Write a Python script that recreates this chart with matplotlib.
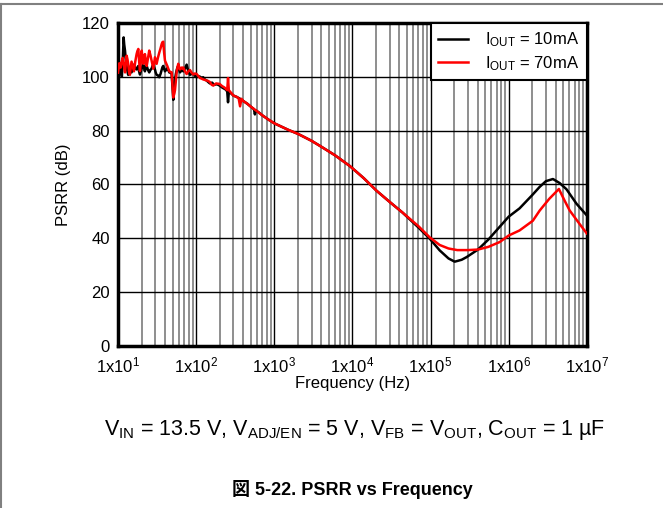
import numpy as np
import matplotlib
matplotlib.use('Agg')
import matplotlib.pyplot as plt
from matplotlib.lines import Line2D
from matplotlib.ticker import FixedLocator, LogLocator, NullFormatter

plt.rcParams['font.family'] = ['Liberation Sans', 'Noto Sans CJK JP']
plt.rcParams['mathtext.fontset'] = 'custom'
plt.rcParams['mathtext.rm'] = 'Liberation Sans'
plt.rcParams['mathtext.it'] = 'Liberation Sans:italic'
plt.rcParams['mathtext.bf'] = 'Liberation Sans:bold'

# IOUT = 10mA (black)
freq_10ma = [10.0, 10.3, 10.6, 10.9, 11.2, 11.5, 11.8, 12.0, 12.3, 12.6, 12.9, 13.2, 13.5,
             13.8, 14.2, 14.5, 14.9, 15.4, 16.0, 16.6, 17.3, 17.7, 18.2, 18.6, 19.1, 19.6,
             20.1, 20.6, 21.1, 21.6, 22.1, 22.7, 23.3, 24.2, 25.1, 26.0, 26.9, 27.6, 28.3,
             29.0, 29.7, 30.4, 31.2, 32.4, 33.7, 35.0, 36.2, 37.0, 37.9, 38.9, 39.9,
             41.3, 42.7, 44.0, 45.3, 47.0, 48.6, 49.8, 51.0, 52.3, 53.6, 55.0, 56.4,
             57.7, 59.1, 60.6, 62.1, 63.7, 65.3, 66.8, 68.4, 72.0, 75.6, 79.4, 83.3,
             87.5, 91.9, 96.6, 101.5, 106.7, 112, 117, 123, 129, 136, 143, 150, 160, 170,
             185, 200, 215, 230, 240, 250, 256, 262, 280, 300, 330, 365, 400, 450, 500,
             550, 565, 580, 630, 700, 850, 1000, 1250, 1500, 2000, 3000, 4000, 6000,
             9300, 14000, 20300, 30000, 44000, 70000, 98000, 131000, 170000, 204000,
             250000, 290000, 405000, 550000, 770000, 1000000, 1380000, 2000000,
             2500000, 3000000, 3690000, 4500000, 5500000, 7400000, 10000000]
psrr_10ma = [101.0, 103.5, 104.7, 102.0, 100.0, 106.0, 114.6, 112.0, 109.6, 106.0, 103.7, 102.0, 100.7,
             102.5, 103.6, 102.0, 101.6, 103.0, 104.5, 103.0, 102.7, 103.5, 104.0, 102.0, 100.8, 102.0,
             103.2, 104.0, 104.5, 103.0, 102.0, 103.5, 104.0, 102.5, 101.6, 102.5, 103.0, 104.0, 104.5,
             103.5, 102.7, 101.5, 100.7, 100.5, 99.8, 101.0, 102.5, 103.5, 104.0, 103.0, 102.0,
             102.5, 103.2, 102.5, 101.6, 101.5, 101.0, 96.0, 91.4, 95.0, 99.0, 101.0, 102.5,
             103.5, 104.0, 102.5, 101.6, 102.0, 102.7, 102.3, 102.0, 103.0, 104.5, 102.0, 100.7,
             101.0, 101.0, 100.3, 99.8, 100.2, 100.0, 99.6, 99.8, 99.0, 98.6, 98.0, 97.5, 97.8, 97.0,
             97.2, 96.7, 96.0, 95.5, 95.2, 94.5, 90.5, 94.3, 93.8, 93.0, 92.5, 91.8, 91.0, 90.0, 88.9,
             87.9, 86.0, 87.5, 86.8, 85.7, 84.0, 82.7, 81.4, 80.3, 78.8, 76.2, 74.0, 70.8,
             66.8, 62.3, 57.7, 53.5, 49.5, 44.0, 39.8, 35.5, 32.5, 31.3,
             32.0, 33.0, 35.8, 39.5, 44.3, 48.0, 51.1, 56.0,
             59.1, 61.2, 62.0, 60.5, 58.2, 52.8, 48.5]

# IOUT = 70mA (red)
freq_70ma = [10.0, 10.4, 10.8, 11.1, 11.5, 11.9, 12.3, 12.6, 12.9, 13.2, 13.5, 13.8, 14.2,
             14.5, 14.9, 15.4, 16.0, 16.6, 17.3, 17.7, 18.2, 18.6, 19.1, 19.6, 20.1, 20.6,
             21.1, 21.6, 22.1, 22.7, 23.3, 24.2, 25.1, 26.0, 26.9, 27.6, 28.3, 29.0, 29.7,
             30.4, 31.2, 32.4, 33.7, 35.0, 36.2, 37.0, 37.9, 38.9, 39.9, 41.3, 42.7, 44.0,
             45.3, 47.0, 48.6, 49.8, 51.0, 52.3, 53.6, 55.0, 56.4, 57.7, 59.1, 60.6, 62.1,
             63.7, 65.3, 66.8, 68.4, 72.0, 75.6, 79.4, 83.3, 87.5, 91.9, 96.6, 101.5, 106.7,
             112, 117, 123, 129, 136, 143, 150, 158, 166, 180, 200, 215, 230, 240, 250, 256,
             262, 280, 300, 330, 350, 365, 380, 400, 450, 500, 600, 700, 850, 1000, 1250,
             1500, 2000, 3000, 4000, 6000, 9300, 14000, 20300, 30000, 44000, 70000, 98000,
             131000, 170000, 220000, 300000, 405000, 550000, 770000, 1000000, 1380000,
             2040000, 2500000, 3300000, 4400000, 5200000, 6050000, 8100000, 10000000]
psrr_70ma = [101.5, 105.0, 103.4, 105.5, 107.0, 104.0, 101.6, 105.0, 107.8, 106.5, 104.8, 102.0, 100.7,
             103.0, 105.6, 104.0, 102.0, 105.5, 108.4, 109.5, 110.3, 106.0, 102.1, 106.0, 109.7, 107.0,
             104.8, 106.5, 108.4, 106.0, 104.0, 107.0, 109.7, 108.0, 106.0, 104.5, 103.0, 105.0, 107.2,
             106.0, 104.8, 107.0, 108.9, 110.5, 112.1, 112.8, 113.0, 109.0, 106.0, 105.0, 104.0, 103.0,
             102.0, 101.8, 101.6, 97.0, 92.3, 93.5, 95.0, 98.5, 101.8, 103.5, 104.8, 103.5, 102.7,
             103.2, 103.4, 103.0, 103.4, 102.0, 101.0, 102.0, 102.5, 101.5, 100.8, 101.2, 101.0, 100.2,
             99.5, 99.3, 99.0, 98.8, 98.6, 98.4, 98.0, 97.0, 96.7, 97.5, 97.3, 96.5, 96.0, 95.5, 95.0, 99.5,
             95.0, 94.0, 93.0, 92.5, 92.0, 89.0, 91.8, 91.0, 90.0, 88.9, 87.2, 85.7, 84.0, 82.7, 81.4,
             80.3, 78.8, 76.2, 74.0, 70.8, 66.8, 62.3, 57.7, 53.5, 49.5, 44.5, 40.3,
             37.5, 36.2, 35.6, 35.6, 35.8, 36.8, 38.6, 41.0, 42.9,
             46.5, 50.3, 54.6, 58.3, 54.0, 50.3, 45.3, 41.8]

x_ticks = [1e1, 1e2, 1e3, 1e4, 1e5, 1e6, 1e7]
x_tick_labels = [r'1x10$^{%d}$' % e for e in range(1, 8)]
y_ticks = [0, 20, 40, 60, 80, 100, 120]

fig = plt.figure(figsize=(6.63, 5.08), dpi=100)
ax = fig.add_axes([0.178, 0.319, 0.707, 0.636])

ax.plot(freq_10ma, psrr_10ma, color='black', lw=1.8, label=r'I$_{\mathrm{OUT}}$ = 10mA', zorder=3)
ax.plot(freq_70ma, psrr_70ma, color='red', lw=1.8, label=r'I$_{\mathrm{OUT}}$ = 70mA', zorder=4)

ax.set_xscale('log')
ax.set_xlim(10, 1e7)
ax.set_ylim(0, 120)
ax.xaxis.set_major_locator(FixedLocator(x_ticks))
ax.set_xticklabels(x_tick_labels)
ax.xaxis.set_minor_locator(LogLocator(base=10, subs=np.arange(2, 10)))
ax.xaxis.set_minor_formatter(NullFormatter())
ax.set_yticks(y_ticks)
ax.tick_params(which='both', length=0, labelsize=12)
ax.tick_params(axis='x', pad=7)
ax.tick_params(axis='y', pad=6)

ax.grid(which='major', color='black', lw=1.0)
ax.grid(which='minor', axis='x', color='#707070', lw=1.1)
ax.set_axisbelow(True)
for s in ax.spines.values():
    s.set_linewidth(2.5)

ax.set_xlabel('Frequency (Hz)', fontsize=12, labelpad=0)
ax.set_ylabel('PSRR (dB)', fontsize=12, labelpad=8)

leg = ax.legend(loc='upper right', bbox_to_anchor=(1, 1), borderaxespad=0,
                fancybox=False, framealpha=1, edgecolor='black', fontsize=12,
                handlelength=1.8, handletextpad=1.0, borderpad=0.45, labelspacing=0.3)
leg.get_frame().set_linewidth(1.5)

fig.text(0.535, 0.153,
         r'V$_{\mathrm{IN}}$ = 13.5 V, V$_{\mathrm{ADJ/EN}}$ = 5 V, V$_{\mathrm{FB}}$ = V$_{\mathrm{OUT}}$, C$_{\mathrm{OUT}}$ = 1 µF',
         ha='center', va='center', fontsize=15.5)
fig.text(0.531, 0.036, '図 5-22. PSRR vs Frequency', ha='center', va='center',
         fontsize=13, fontweight='bold')

# page border
fig.add_artist(Line2D([0, 1], [1 - 4 / 508, 1 - 4 / 508], color='#808080', lw=1.5))
fig.add_artist(Line2D([1 / 663, 1 / 663], [0, 1 - 4 / 508], color='#808080', lw=1.5))

fig.savefig('out.png', dpi=100)
